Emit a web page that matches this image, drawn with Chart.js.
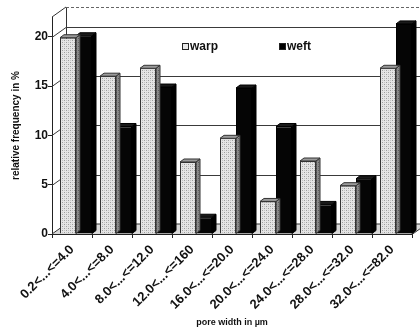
<!DOCTYPE html>
<html>
<head>
<meta charset="utf-8">
<script src="https://cdn.jsdelivr.net/npm/chart.js@4/dist/chart.umd.min.js"></script>
<style>
  html, body { margin: 0; padding: 0; background: #fff; }
  canvas { display: block; }
</style>
</head>
<body>
<canvas id="c" width="420" height="331"></canvas>
<script>
// Pore width classes (µm) and relative frequencies (%)
const categories = ['0.2<...<=4.0', '4.0<...<=8.0', '8.0<...<=12.0', '12.0<...<=160',
  '16.0<...<=20.0', '20.0<...<=24.0', '24.0<...<=28.0', '28.0<...<=32.0', '32.0<...<=82.0'];
const warp = [19.9, 16.0, 16.8, 7.3, 9.7, 3.3, 7.4, 4.9, 16.8];
const weft = [20.1, 10.9, 14.9, 1.7, 14.8, 10.9, 3.0, 5.6, 21.3];
const yTicks = [0, 5, 10, 15, 20];
const yMax = 22;

const FONT = '"Liberation Sans", Arial, sans-serif';
const INK = '#111';
const WALL = { dx: 14, dy: -10 };   // depth of the box (back wall offset)
const BAR = { dx: 4, dy: -3 };      // depth of each column
const SHIFT = 4;                    // columns sit slightly behind the front plane

// stippled light-grey fill for the warp columns
function stipple(bg, dot, mid) {
  const p = document.createElement('canvas');
  p.width = 4; p.height = 4;
  const g = p.getContext('2d');
  g.fillStyle = bg; g.fillRect(0, 0, 4, 4);
  g.fillStyle = dot; g.fillRect(0, 0, 1, 1); g.fillRect(2, 2, 1, 1);
  g.fillStyle = mid; g.fillRect(2, 0, 1, 1); g.fillRect(0, 2, 1, 1);
  return document.getElementById('c').getContext('2d').createPattern(p, 'repeat');
}
const warpFront = stipple('#e4e4e4', '#9c9c9c', '#c4c4c4');
const warpSide = stipple('#8a8a8a', '#5a5a5a', '#777777');

const faces = [
  { side: warpSide, top: '#9a9a9a', edge: '#333' },
  { side: '#000', top: '#1a1a1a', edge: '#000' }
];

// box walls, floor and back-wall grid lines
const box = {
  id: 'box',
  beforeDatasetsDraw(chart) {
    const { ctx, chartArea: a, scales: { y } } = chart;
    const L = a.left, R = a.right, T = a.top, B = a.bottom;
    const dx = WALL.dx, dy = WALL.dy;
    ctx.save();
    // floor
    ctx.fillStyle = '#d9d9d9';
    ctx.beginPath();
    ctx.moveTo(L, B); ctx.lineTo(R, B); ctx.lineTo(R + dx, B + dy); ctx.lineTo(L + dx, B + dy);
    ctx.closePath(); ctx.fill();
    ctx.strokeStyle = '#333'; ctx.lineWidth = 1;
    ctx.beginPath();
    ctx.moveTo(L, B); ctx.lineTo(L + dx, B + dy); ctx.lineTo(R + dx, B + dy);
    ctx.moveTo(R, B + 0.5); ctx.lineTo(R + dx, B + dy + 0.5);
    ctx.stroke();
    // left wall back edge and top diagonal
    ctx.beginPath();
    ctx.moveTo(L + dx + 0.5, B + dy); ctx.lineTo(L + dx + 0.5, T + dy);
    ctx.moveTo(L, T); ctx.lineTo(L + dx, T + dy);
    ctx.stroke();
    // grid lines on left wall and back wall
    ctx.strokeStyle = '#3a3a3a';
    yTicks.filter(v => v > 0).forEach(v => {
      const py = Math.round(y.getPixelForValue(v)) + 0.5;
      ctx.beginPath();
      ctx.moveTo(L, py); ctx.lineTo(L + dx, py + dy); ctx.lineTo(R + dx, py + dy);
      ctx.stroke();
    });
    // dashed top edge of the back wall
    ctx.strokeStyle = '#666';
    ctx.setLineDash([3, 2]);
    ctx.beginPath();
    ctx.moveTo(L + dx, T + dy + 0.5); ctx.lineTo(R + dx, T + dy + 0.5);
    ctx.stroke();
    ctx.restore();
  }
};

// side and top faces of every column, drawn before its front face
const depth = {
  id: 'depth',
  beforeDatasetDraw(chart, args) {
    const ctx = chart.ctx;
    const f = faces[args.index];
    ctx.save();
    ctx.translate(SHIFT, 0);
    ctx.lineWidth = 1;
    ctx.strokeStyle = f.edge;
    args.meta.data.forEach(bar => {
      const p = bar.getProps(['x', 'y', 'base', 'width'], true);
      const l = p.x - p.width / 2, r = p.x + p.width / 2;
      ctx.fillStyle = f.side;
      ctx.beginPath();
      ctx.moveTo(r, p.y); ctx.lineTo(r + BAR.dx, p.y + BAR.dy);
      ctx.lineTo(r + BAR.dx, p.base + BAR.dy); ctx.lineTo(r, p.base);
      ctx.closePath(); ctx.fill(); ctx.stroke();
      ctx.fillStyle = f.top;
      ctx.beginPath();
      ctx.moveTo(l, p.y); ctx.lineTo(l + BAR.dx, p.y + BAR.dy);
      ctx.lineTo(r + BAR.dx, p.y + BAR.dy); ctx.lineTo(r, p.y);
      ctx.closePath(); ctx.fill(); ctx.stroke();
    });
    ctx.restore();
    ctx.save();
    ctx.translate(SHIFT, 0);
  },
  afterDatasetDraw(chart) {
    chart.ctx.restore();
  }
};

// legend inside the box
const keys = {
  id: 'keys',
  afterDraw(chart) {
    const ctx = chart.ctx;
    const spots = [{ x: 182, y: 43 }, { x: 279, y: 43 }];
    ctx.save();
    ctx.font = 'bold 12px ' + FONT;
    ctx.textBaseline = 'middle';
    chart.data.datasets.forEach((ds, i) => {
      const s = spots[i];
      ctx.fillStyle = i === 0 ? '#e8e8e8' : '#000';
      ctx.fillRect(s.x, s.y, 7, 7);
      ctx.strokeStyle = '#222';
      ctx.strokeRect(s.x + 0.5, s.y + 0.5, 6, 6);
      ctx.fillStyle = INK;
      ctx.fillText(ds.label, s.x + 8, s.y + 4);
    });
    ctx.restore();
  }
};

new Chart(document.getElementById('c'), {
  type: 'bar',
  data: {
    labels: categories,
    datasets: [
      { label: 'warp', data: warp, backgroundColor: warpFront, borderColor: '#333', borderWidth: 1 },
      { label: 'weft', data: weft, backgroundColor: '#050505', borderColor: '#000', borderWidth: 1 }
    ]
  },
  plugins: [box, depth, keys],
  options: {
    responsive: false,
    animation: false,
    layout: { padding: { top: 17, right: 8, left: 0, bottom: 0 } },
    plugins: { legend: { display: false }, tooltip: { enabled: false } },
    datasets: { bar: { categoryPercentage: 0.8, barPercentage: 1.0, clip: false } },
    scales: {
      x: {
        grid: { offset: true, drawOnChartArea: false, tickLength: 4, color: '#222' },
        border: { color: '#222' },
        ticks: { autoSkip: false, maxRotation: 45, minRotation: 45, padding: 4, color: INK,
          font: { family: FONT, size: 13, weight: 'bold' } },
        title: { display: true, text: 'pore width in µm', color: INK,
          font: { family: FONT, size: 9, weight: 'bold' }, padding: { top: 2, bottom: 3 } },
        afterFit(s) { s.height = 97; }
      },
      y: {
        min: 0, max: yMax,
        afterBuildTicks(s) { s.ticks = yTicks.map(v => ({ value: v })); },
        grid: { drawOnChartArea: false, tickLength: 4, color: '#222' },
        border: { color: '#222' },
        ticks: { padding: 0, color: INK, font: { family: FONT, size: 12, weight: 'bold' } },
        title: { display: true, text: 'relative frequency in %', color: INK,
          font: { family: FONT, size: 10, weight: 'bold' }, padding: { top: 10, bottom: 0 } },
        afterFit(s) { s.width = 52; }
      }
    }
  }
});
</script>
</body>
</html>
